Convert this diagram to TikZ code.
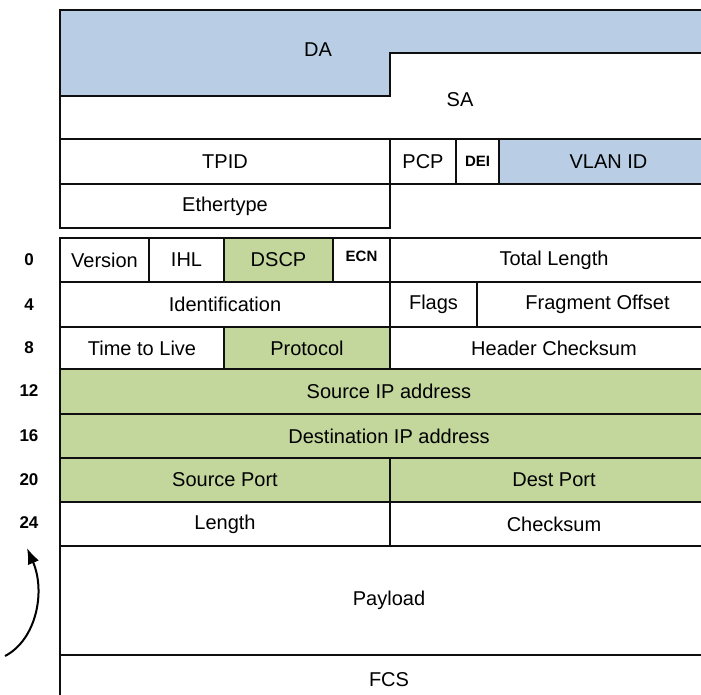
\documentclass[tikz,border=0pt]{standalone}
\usepackage{fontspec}
\setmainfont{Liberation Sans}
\usetikzlibrary{arrows.meta}
\definecolor{hdrblue}{RGB}{185,205,229}
\definecolor{hdrgreen}{RGB}{195,214,155}
\definecolor{hdrline}{RGB}{15,15,15}
\tikzset{
  cell/.style={draw=hdrline,line width=2.6pt,fill=white,inner sep=0pt,font=\fontsize{20}{24}\selectfont},
  vlan/.style={cell,fill=hdrblue},
  ipkey/.style={cell,fill=hdrgreen},
  flagtxt/.style={font=\fontsize{15}{18}\selectfont\bfseries},
  rowno/.style={font=\fontsize{17}{20}\selectfont\bfseries,inner sep=0pt},
  frame/.style={draw=hdrline,line width=2.6pt},
  arr/.style={-{Latex[length=16pt,width=12pt]},line width=2pt},
}

\begin{document}
\begin{tikzpicture}[x=1pt,y=-1pt]
  \path[use as bounding box] (0,0) rectangle (701,695);
  \clip (0,0) rectangle (701,695);
  % ethernet addresses
  \fill[hdrblue] (60,10) -- (718,10) -- (718,53) -- (390,53) -- (390,96) -- (60,96) -- cycle;
  \draw[frame] (60,10) rectangle (718,139);
  \draw[frame] (60,96) -- (390,96) -- (390,53) -- (718,53);
  \node[font=\fontsize{20}{24}\selectfont] (da) at (318,50) {DA};
  \node[font=\fontsize{20}{24}\selectfont] (sa) at (460,100) {SA};
  % 802.1Q tag
  \node[cell,minimum width=330,minimum height=45] (tpid) at (225,161.5) {TPID};
  \node[cell,minimum width=66,minimum height=45] (pcp) at (423,161.5) {PCP};
  \node[cell,flagtxt,minimum width=43,minimum height=45] (dei) at (477.5,161.5) {DEI};
  \node[vlan,minimum width=219,minimum height=45] (vid) at (608.5,161.5) {VLAN ID};
  \node[cell,minimum width=330,minimum height=44] (etype) at (225,206) {Ethertype};
  % IPv4 header
  \node[cell,minimum width=89,minimum height=44] (ver) at (104.5,260) {Version};
  \node[cell,minimum width=75,minimum height=44] (ihl) at (186.5,260) {IHL};
  \node[ipkey,minimum width=109,minimum height=44] (dscp) at (278.5,260) {DSCP};
  \node[cell,flagtxt,minimum width=57,minimum height=44,text depth=8pt] (ecn) at (361.5,260) {ECN};
  \node[cell,minimum width=328,minimum height=44] (tlen) at (554,260) {Total Length};
  \node[cell,minimum width=330,minimum height=45] (ident) at (225,304.5) {Identification};
  \node[cell,minimum width=87,minimum height=45] (flags) at (433.5,304.5) {Flags};
  \node[cell,minimum width=241,minimum height=45] (frag) at (597.5,304.5) {Fragment Offset};
  \node[cell,minimum width=164,minimum height=42] (ttl) at (142,348) {Time to Live};
  \node[ipkey,minimum width=166,minimum height=42] (proto) at (307,348) {Protocol};
  \node[cell,minimum width=328,minimum height=42] (hcs) at (554,348) {Header Checksum};
  \node[ipkey,minimum width=658,minimum height=45] (srcip) at (389,391.5) {Source IP address};
  \node[ipkey,minimum width=658,minimum height=44] (dstip) at (389,436) {Destination IP address};
  % UDP header
  \node[ipkey,minimum width=330,minimum height=44] (sport) at (225,480) {Source Port};
  \node[ipkey,minimum width=328,minimum height=44] (dport) at (554,480) {Dest Port};
  \node[cell,minimum width=330,minimum height=44] (ulen) at (225,524) {Length};
  \node[cell,minimum width=328,minimum height=44] (ucs) at (554,524) {Checksum};
  \node[cell,minimum width=658,minimum height=109] (data) at (389,600.5) {Payload};
  \node[cell,minimum width=658,minimum height=50] (fcs) at (389,680) {FCS};
  % byte offsets
  \foreach \o/\y in {0/260,4/305,8/348,12/391,16/436,20/480,24/523}
    \node[rowno] (row\o) at (29,\y) {\o};
  \coordinate (tail) at (5,656);
  \coordinate (tip) at (27,548);
  \draw[arr] (tail) .. controls (36,640) and (46,592) .. (tip);
\end{tikzpicture}
\end{document}
